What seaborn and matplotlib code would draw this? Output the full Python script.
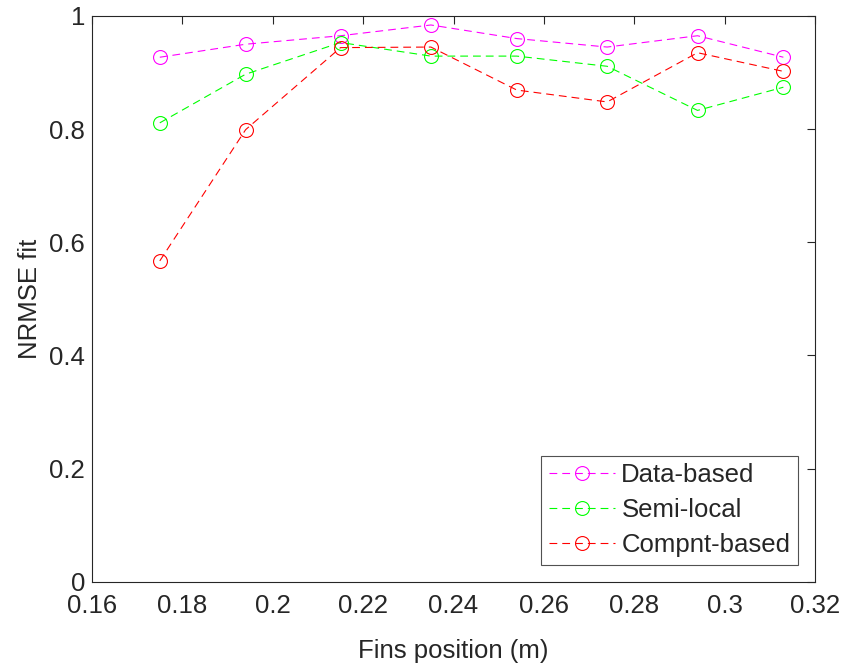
import pandas as pd
import matplotlib
matplotlib.use("Agg")
import matplotlib.pyplot as plt
import seaborn as sns

# Data
fins_position = [0.175, 0.194, 0.215, 0.235, 0.254, 0.274, 0.294, 0.313]
data_based = [0.927, 0.950, 0.965, 0.984, 0.960, 0.945, 0.965, 0.927]
semi_local = [0.811, 0.897, 0.953, 0.929, 0.929, 0.911, 0.833, 0.874]
compnt_based = [0.567, 0.799, 0.944, 0.945, 0.869, 0.848, 0.935, 0.902]

series_names = ["Data-based", "Semi-local", "Compnt-based"]
series_values = [data_based, semi_local, compnt_based]
series_colors = ["#FF00FF", "#00FF00", "#FF0000"]

sns.set_style("white")
plt.rcParams["font.family"] = ["Liberation Sans", "DejaVu Sans"]

fig = plt.figure(figsize=(8.41, 6.64), dpi=100)
ax = fig.add_axes([0.1094, 0.124, 0.8597, 0.852])

for name, vals, col in zip(series_names, series_values, series_colors):
    df = pd.DataFrame({"x": fins_position, "y": vals})
    sns.lineplot(data=df, x="x", y="y", ax=ax, color=col, label=name,
                 linewidth=0.8, marker="o", markersize=10,
                 markerfacecolor="none", markeredgecolor=col,
                 markeredgewidth=0.8, dashes=False)
    ax.lines[-1].set_dashes([7, 4.5])

ax.set_xlim(0.16, 0.32)
ax.set_ylim(0, 1)
ax.set_xticks([0.16, 0.18, 0.2, 0.22, 0.24, 0.26, 0.28, 0.3, 0.32])
ax.set_xticklabels(["0.16", "0.18", "0.2", "0.22", "0.24", "0.26", "0.28", "0.3", "0.32"])
ax.set_yticks([0, 0.2, 0.4, 0.6, 0.8, 1])
ax.set_yticklabels(["0", "0.2", "0.4", "0.6", "0.8", "1"])

for sp in ax.spines.values():
    sp.set_visible(True)
    sp.set_color("#262626")
    sp.set_linewidth(0.8)
ax.tick_params(direction="in", length=5.5, width=0.8, color="#262626",
               labelsize=18.5, labelcolor="#262626", top=True, right=True)
ax.tick_params(axis="x", pad=9)
ax.tick_params(axis="y", pad=5)

ax.set_xlabel("Fins position (m)", fontsize=18.5, color="#262626", labelpad=15)
ax.set_ylabel("NRMSE fit", fontsize=18.5, color="#262626", labelpad=5)

leg = ax.legend(loc="lower right", fontsize=18.5, frameon=True, fancybox=False,
                edgecolor="#262626", handlelength=2.6, borderaxespad=0.66,
                labelspacing=0.42, handletextpad=0.23, borderpad=0.3)
leg.get_frame().set_linewidth(0.8)

fig.savefig("out.png", dpi=100)
